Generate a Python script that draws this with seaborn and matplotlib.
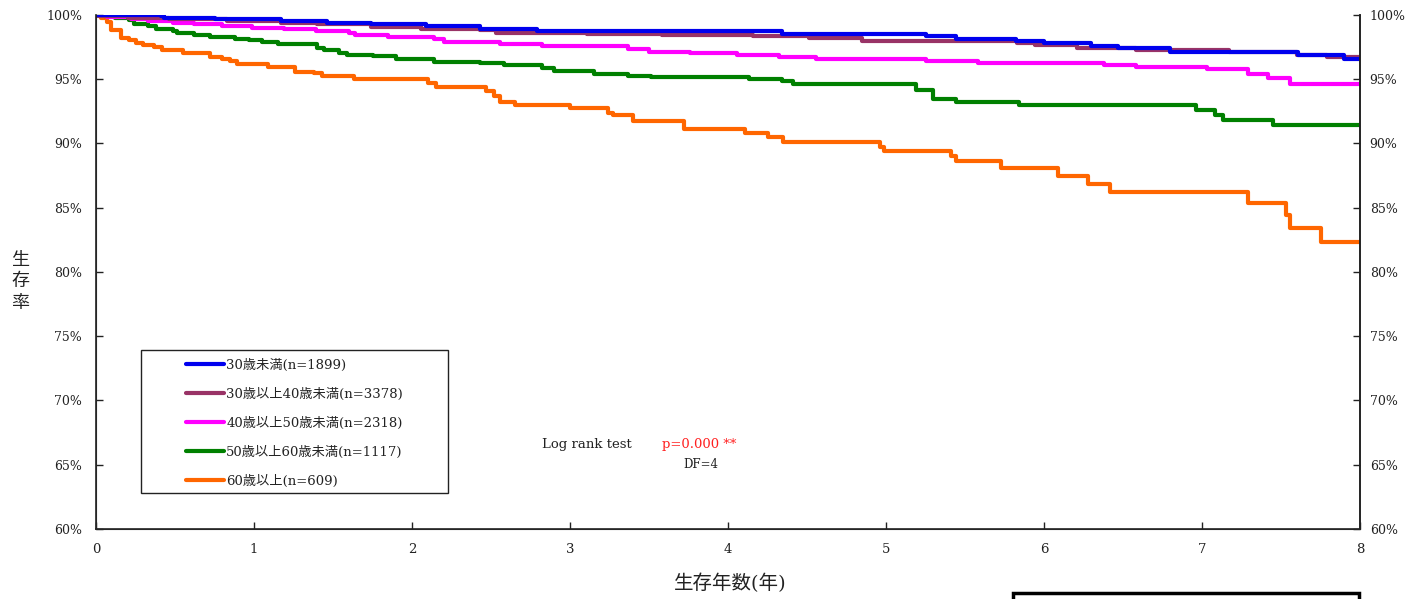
import matplotlib
matplotlib.use("Agg")
import matplotlib.pyplot as plt
from matplotlib.patches import Rectangle
from matplotlib.lines import Line2D
from matplotlib.ticker import FuncFormatter
import seaborn as sns
import pandas as pd

# Kaplan-Meier survival estimates by age group (years, % surviving)
labels = [
    "30歳未満(n=1899)",
    "30歳以上40歳未満(n=3378)",
    "40歳以上50歳未満(n=2318)",
    "50歳以上60歳未満(n=1117)",
    "60歳以上(n=609)",
]
colors = ["#0000ee", "#993366", "#ff00ff", "#008000", "#ff6600"]

t_u30 = [0, 0.41, 0.43, 0.75, 1.17, 1.46, 1.74, 2.09, 2.43, 2.79, 4.34, 5.25, 5.44,
         5.82, 6.00, 6.30, 6.47, 6.80, 7.61, 7.90, 8.0]
s_u30 = [100, 99.92, 99.8, 99.66, 99.53, 99.4, 99.27, 99.15, 98.94, 98.75, 98.53, 98.35,
         98.17, 98.0, 97.8, 97.6, 97.4, 97.1, 96.9, 96.6, 96.6]

t_30s = [0, 0.01, 0.20, 0.46, 0.83, 1.17, 1.40, 1.74, 2.06, 2.43, 2.53, 3.11, 3.58, 4.16,
         4.51, 4.85, 5.83, 5.94, 6.21, 6.58, 7.17, 7.60, 7.79, 8.0]
s_30s = [100, 99.92, 99.8, 99.66, 99.53, 99.4, 99.27, 99.1, 98.94, 98.8, 98.63, 98.5, 98.42,
         98.35, 98.2, 98.0, 97.8, 97.65, 97.4, 97.3, 97.1, 96.85, 96.7, 96.7]

t_40s = [0, 0.07, 0.22, 0.33, 0.49, 0.62, 0.80, 0.99, 1.19, 1.39, 1.60, 1.64, 1.85, 2.14,
         2.20, 2.56, 2.82, 3.37, 3.50, 3.76, 4.06, 4.32, 4.56, 5.25, 5.58, 6.38, 6.58, 7.03,
         7.29, 7.42, 7.56, 8.0]
s_40s = [100, 99.87, 99.7, 99.53, 99.4, 99.27, 99.15, 99.0, 98.9, 98.75, 98.63, 98.42,
         98.29, 98.16, 97.9, 97.77, 97.6, 97.33, 97.15, 97.03, 96.9, 96.72, 96.6, 96.4,
         96.3, 96.1, 95.97, 95.76, 95.37, 95.09, 94.65, 94.65]

t_50s = [0, 0.05, 0.12, 0.21, 0.24, 0.33, 0.38, 0.49, 0.51, 0.62, 0.72, 0.88, 0.97, 1.05,
         1.15, 1.40, 1.44, 1.54, 1.59, 1.75, 1.90, 2.14, 2.43, 2.58, 2.82, 2.90, 3.15, 3.37,
         3.51, 4.13, 4.34, 4.41, 5.19, 5.30, 5.44, 5.84, 6.96, 7.08, 7.13, 7.45, 8.0]
s_50s = [100, 99.9, 99.8, 99.6, 99.27, 99.15, 98.94, 98.76, 98.58, 98.42, 98.3, 98.16,
         98.03, 97.9, 97.77, 97.46, 97.25, 97.07, 96.92, 96.79, 96.6, 96.37, 96.24, 96.09,
         95.88, 95.65, 95.44, 95.26, 95.15, 94.99, 94.83, 94.65, 94.13, 93.5, 93.2, 92.97,
         92.6, 92.2, 91.86, 91.47, 91.47]

t_60p = [0, 0.03, 0.07, 0.093, 0.16, 0.21, 0.25, 0.30, 0.37, 0.42, 0.55, 0.72, 0.80, 0.85,
         0.89, 1.09, 1.26, 1.38, 1.43, 1.63, 2.10, 2.15, 2.47, 2.52, 2.56, 2.65, 3.00, 3.24,
         3.27, 3.40, 3.72, 4.11, 4.25, 4.35, 4.96, 4.99, 5.41, 5.44, 5.73, 6.09, 6.28, 6.42,
         7.29, 7.53, 7.56, 7.75, 8.0]
s_60p = [100, 99.8, 99.45, 98.83, 98.24, 98.03, 97.8, 97.64, 97.5, 97.25, 97.05, 96.76,
         96.55, 96.4, 96.17, 95.98, 95.6, 95.5, 95.26, 95.05, 94.7, 94.4, 94.1, 93.7, 93.24,
         93.0, 92.8, 92.4, 92.2, 91.76, 91.1, 90.83, 90.5, 90.1, 89.7, 89.4, 89.0, 88.6, 88.1,
         87.5, 86.85, 86.2, 85.35, 84.4, 83.4, 82.3, 82.3]

times = [t_u30, t_30s, t_40s, t_50s, t_60p]
surv = [s_u30, s_30s, s_40s, s_50s, s_60p]

y_ticks = [60, 65, 70, 75, 80, 85, 90, 95, 100]
x_ticks = [0, 1, 2, 3, 4, 5, 6, 7, 8]

sns.set_style("white")
plt.rcParams["font.family"] = ["DejaVu Serif", "Noto Sans CJK JP"]
plt.rcParams["axes.unicode_minus"] = False

INK = "#222222"
fig = plt.figure(figsize=(14.23, 5.99), dpi=100)
ax = fig.add_axes([96 / 1423, 1 - 529 / 599, 1264 / 1423, 514 / 599])

# draw curves, oldest group first so the younger ones sit on top
for i in reversed(range(len(labels))):
    df = pd.DataFrame({"t": times[i], "s": surv[i]})
    sns.lineplot(data=df, x="t", y="s", ax=ax, color=colors[i], lw=3.0,
                 drawstyle="steps-post", estimator=None, sort=False, legend=False)

ax.set_xlim(0, 8)
ax.set_ylim(60, 100)
ax.set_xticks(x_ticks)
ax.set_yticks(y_ticks)
pct = FuncFormatter(lambda v, p: f"{int(v)}%")
ax.yaxis.set_major_formatter(pct)
ax.set_xlabel("")
ax.set_ylabel("")
fig.text(730 / 1423, 1 - 583 / 599, "生存年数(年)", fontsize=14, ha="center",
         va="center", color=INK)
for ch, yp in zip("生存率", [260, 281, 303]):
    fig.text(20 / 1423, 1 - yp / 599, ch, fontsize=13, ha="center", va="center",
             color=INK)

ax.spines["top"].set_visible(False)
for side in ["left", "right", "bottom"]:
    ax.spines[side].set_visible(True)
    ax.spines[side].set_color(INK)
    ax.spines[side].set_linewidth(1.2)

ax.tick_params(axis="x", direction="in", length=5, width=1, pad=10, labelsize=9.5,
               colors=INK, bottom=True)
ax.tick_params(axis="y", direction="in", length=5, width=1, pad=10, labelsize=9,
               colors=INK, left=True)

ax2 = ax.twinx()
ax2.set_ylim(60, 100)
ax2.set_yticks(y_ticks)
ax2.yaxis.set_major_formatter(pct)
ax2.tick_params(axis="y", direction="in", length=5, width=1, pad=7, labelsize=9,
                colors=INK, right=True)
ax2.spines["top"].set_visible(False)
ax2.spines["right"].set_color(INK)
ax2.spines["right"].set_linewidth(1.2)
ax2.grid(False)

# legend frame and entries
ax.add_patch(Rectangle(((141 - 96) / 1264, (529 - 493) / 514), 307 / 1264, 143 / 514,
                       transform=ax.transAxes, fill=False, edgecolor=INK,
                       lw=1.0, zorder=5))
handles = [Line2D([], [], color=c, lw=3.0) for c in colors]
leg = ax.legend(handles, labels, loc="upper left",
                bbox_to_anchor=((186 - 96) / 1264, (529 - 358.5) / 514),
                frameon=False, borderpad=0, borderaxespad=0, handlelength=2.85,
                handletextpad=0.2, labelspacing=1.21, fontsize=9.5)
for txt in leg.get_texts():
    txt.set_color(INK)

ax.text(2.82, 66.6, "Log rank test", fontsize=9.5, color=INK, va="center")
ax.text(3.58, 66.6, "p=0.000 **", fontsize=9.5, color="#ff2020", va="center")
ax.text(3.72, 65.05, "DF=4", fontsize=8.5, color=INK, va="center")

# note box partially shown at the page bottom
fig.patches.append(Rectangle((1013 / 1423, -0.05), 346 / 1423, 0.05 + 6 / 599,
                             transform=fig.transFigure, fill=False,
                             edgecolor="black", lw=2.5))

fig.savefig("out.png", dpi=100)
